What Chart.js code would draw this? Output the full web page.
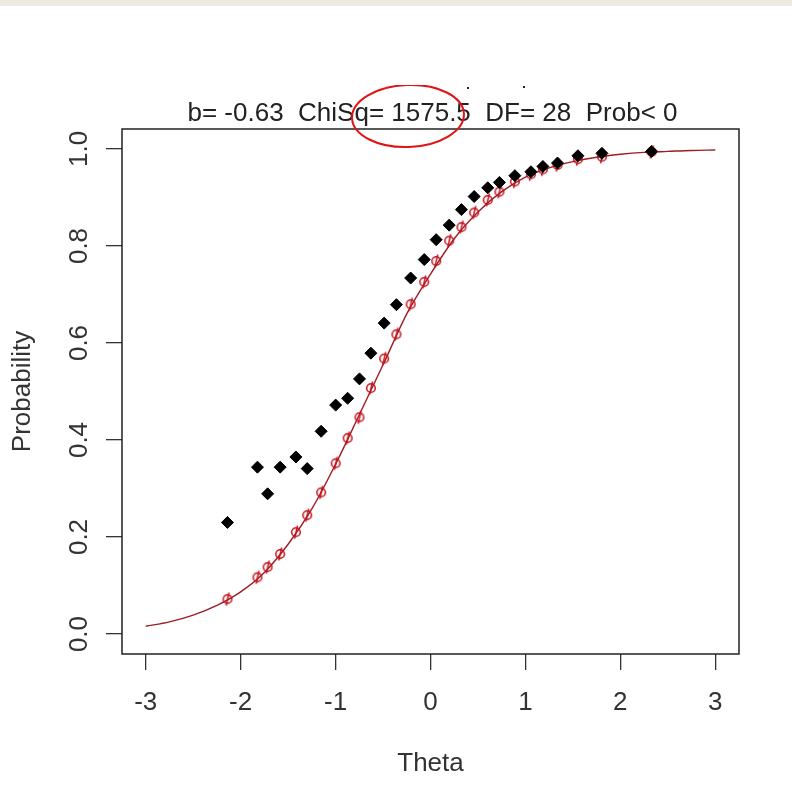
<!DOCTYPE html>
<html><head><meta charset="utf-8">
<script src="https://cdn.jsdelivr.net/npm/chart.js@4"></script>
<style>html,body{margin:0;padding:0;background:#fff;}#wrap{width:792px;height:802px;position:relative;}</style>
</head><body><div id="wrap"><canvas id="c" width="792" height="802"></canvas></div>
<script>
// ---- data ----
const theta = [-2.139,-1.823,-1.716,-1.584,-1.418,-1.299,-1.152,-0.999,-0.873,-0.748,-0.628,-0.488,-0.359,-0.209,-0.066,0.060,0.197,0.326,0.460,0.603,0.726,0.889,1.058,1.184,1.338,1.553,1.806,2.329];
const observed = [0.230,0.344,0.289,0.344,0.365,0.341,0.418,0.472,0.486,0.526,0.579,0.641,0.679,0.734,0.772,0.813,0.843,0.875,0.902,0.920,0.931,0.945,0.953,0.964,0.971,0.986,0.991,0.995];
const expected = [0.072,0.117,0.138,0.165,0.210,0.245,0.292,0.352,0.404,0.447,0.507,0.568,0.618,0.680,0.726,0.769,0.811,0.839,0.869,0.895,0.912,0.933,0.948,0.958,0.967,0.979,0.984,0.994];
const curveTheta = [-3,-2.75,-2.5,-2.25,-2,-1.75,-1.5,-1.25,-1,-0.75,-0.5,-0.25,0,0.25,0.5,0.75,1,1.25,1.5,1.75,2,2.25,2.5,2.75,3];
const curveProb = [0.016,0.025,0.039,0.059,0.087,0.127,0.185,0.258,0.350,0.452,0.555,0.660,0.742,0.815,0.870,0.912,0.942,0.961,0.974,0.983,0.989,0.993,0.995,0.997,0.998];
const xTicks = [-3,-2,-1,0,1,2,3];
const yTicks = [0.0,0.2,0.4,0.6,0.8,1.0];
const titleText = 'b= -0.63  ChiSq= 1575.5  DF= 28  Prob< 0';
const xLabel = 'Theta';
const yLabel = 'Probability';

const FONT = '"Liberation Sans", Arial, sans-serif';

// red open circle with a small bar
const redMark = document.createElement('canvas');
redMark.width = 16; redMark.height = 16;
(function(){
  const g = redMark.getContext('2d');
  g.strokeStyle = '#c3121c'; g.lineWidth = 1.5;
  g.beginPath(); g.arc(8,8,4.3,0,Math.PI*2); g.stroke();
  g.beginPath(); g.moveTo(9.6,1.5); g.lineTo(6.6,14.5); g.stroke();
})();

const decor = {
  id: 'decor',
  beforeDraw(chart){
    const ctx = chart.ctx;
    ctx.save();
    ctx.fillStyle = '#fff'; ctx.fillRect(0,0,792,802);
    ctx.fillStyle = '#edeae0'; ctx.fillRect(0,0,792,6);
    ctx.restore();
  },
  afterDraw(chart){
    const ctx = chart.ctx, a = chart.chartArea;
    ctx.save();
    ctx.strokeStyle = '#222'; ctx.lineWidth = 1.5;
    ctx.strokeRect(a.left, a.top, a.right - a.left, a.bottom - a.top);
    ctx.fillStyle = '#222';
    ctx.font = '26px ' + FONT;
    ctx.textAlign = 'center'; ctx.textBaseline = 'alphabetic';
    ctx.fillText(titleText, 432.5, 121);
    // tiny remnants of cropped text
    ctx.fillRect(467,87,2,2); ctx.fillRect(523,86,2,2);
    // red hand-drawn ellipse (clipped at top)
    ctx.beginPath(); ctx.rect(0,85,792,120); ctx.clip();
    ctx.strokeStyle = '#e01414'; ctx.lineWidth = 2;
    ctx.beginPath(); ctx.ellipse(408,116,56,31,-0.04,0,Math.PI*2); ctx.stroke();
    ctx.restore();
  }
};

new Chart(document.getElementById('c'), {
  type: 'scatter',
  data: {
    datasets: [
      { label:'observed', data: theta.map((t,i)=>({x:t,y:observed[i]})), pointStyle:'rectRot', pointRadius:6, backgroundColor:'#000', borderColor:'#000', borderWidth:1, order:0 },
      { label:'expected', data: theta.map((t,i)=>({x:t,y:expected[i]})), pointStyle:redMark, pointRadius:5, order:1 },
      { label:'curve', type:'line', data: curveTheta.map((t,i)=>({x:t,y:curveProb[i]})), borderColor:'#9e1c22', borderWidth:1.4, pointRadius:0, fill:false, cubicInterpolationMode:'monotone', order:2 }
    ]
  },
  options: {
    responsive:false, animation:false, devicePixelRatio:1,
    layout:{ padding:{ left:0, right:53, top:129, bottom:0 } },
    plugins:{ legend:{display:false}, tooltip:{enabled:false}, title:{display:false} },
    scales:{
      x:{
        type:'linear', min:-3.25, max:3.25,
        afterBuildTicks(s){ s.ticks = xTicks.map(v=>({value:v})); },
        afterFit(s){ s.height = 148; },
        grid:{ display:true, drawOnChartArea:false, drawTicks:true, tickLength:16, color:'#333', lineWidth:1.3 },
        border:{ display:false },
        ticks:{ color:'#333', font:{ family:FONT, size:26 }, padding:17, callback:v=>String(v), maxRotation:0 },
        title:{ display:true, text:xLabel, color:'#333', font:{ family:FONT, size:26 }, padding:{top:0,bottom:23} }
      },
      y:{
        type:'linear', min:-0.0412, max:1.0412,
        afterBuildTicks(s){ s.ticks = yTicks.map(v=>({value:v})); },
        afterFit(s){ s.width = 122; },
        grid:{ display:true, drawOnChartArea:false, drawTicks:true, tickLength:16, color:'#333', lineWidth:1.3 },
        border:{ display:false },
        ticks:{ color:'#333', font:{ family:FONT, size:26 }, padding:8, minRotation:90, maxRotation:90, crossAlign:'center', callback:v=>Number(v).toFixed(1) },
        title:{ display:true, text:yLabel, color:'#333', font:{ family:FONT, size:26 }, padding:{top:7,bottom:0} }
      }
    }
  },
  plugins:[decor]
});
</script></body></html>
